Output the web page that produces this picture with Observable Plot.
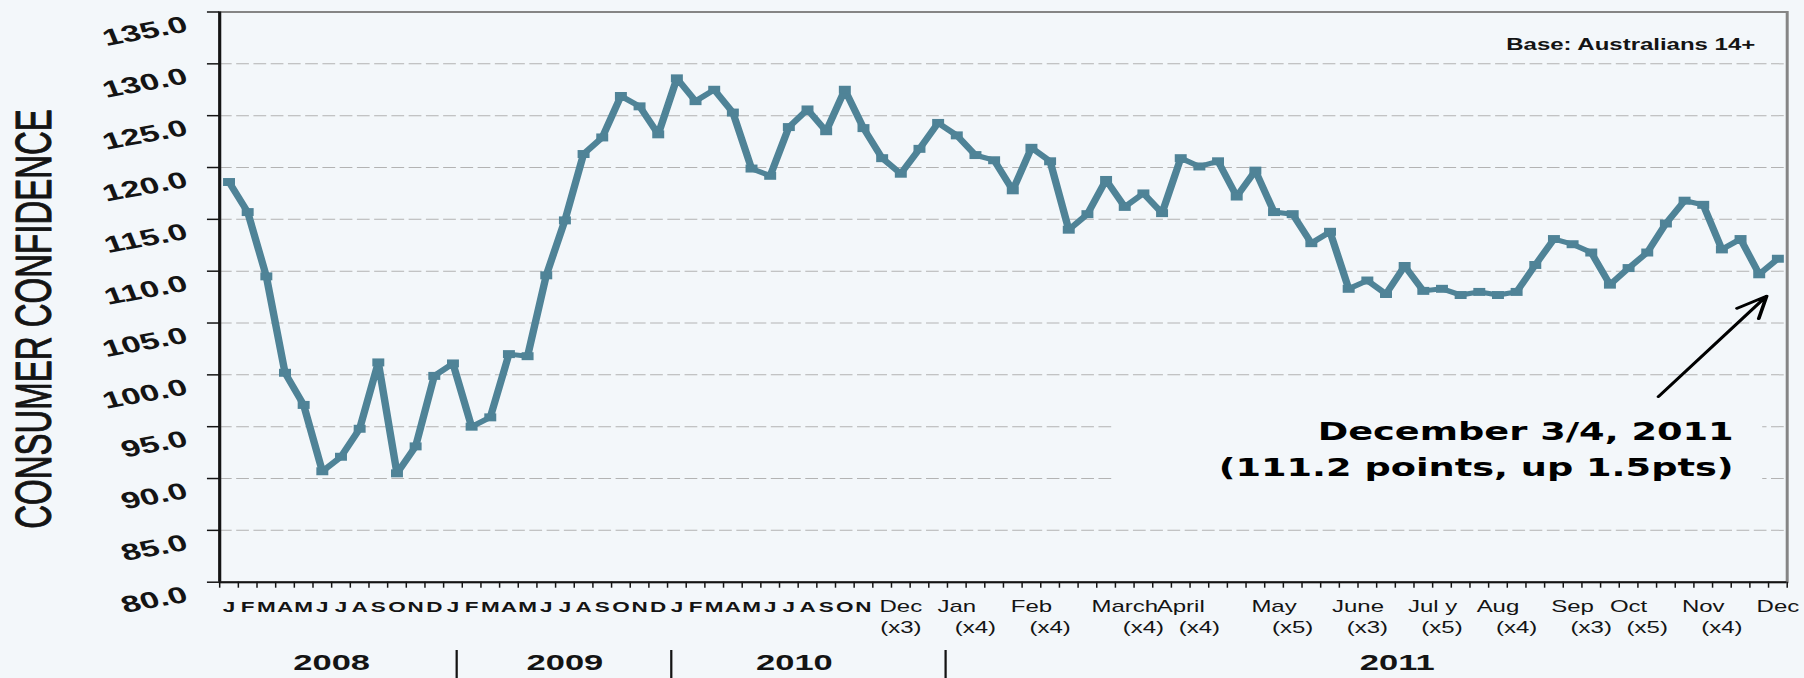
<!DOCTYPE html>
<html>
<head>
<meta charset="utf-8">
<script src="https://cdn.jsdelivr.net/npm/d3@7"></script>
<script src="https://cdn.jsdelivr.net/npm/@observablehq/plot@0.6"></script>
<style>
  html, body { margin: 0; padding: 0; background: #f3f7fa; overflow: hidden; }
  #chart { width: 1804px; height: 678px; }
</style>
</head>
<body>
<div id="chart"></div>
<script>
// Consumer confidence, Australians 14+ (index points)
const monthInitials = ["J", "F", "M", "A", "M", "J", "J", "A", "S", "O", "N", "D"];

// One reading per month, 2008 to November 2010
const monthly2008 = [118.6, 115.7, 109.5, 100.2, 97.1, 90.7, 92.1, 94.8, 101.2, 90.5, 93.1, 99.9];
const monthly2009 = [101.1, 95.0, 95.9, 102.0, 101.8, 109.6, 114.9, 121.3, 122.9, 126.9, 125.9, 123.2];
const monthly2010 = [128.6, 126.4, 127.5, 125.3, 119.9, 119.2, 123.9, 125.6, 123.5, 127.5, 123.8];

// From December 2010, several readings per month
const dec2010 = [120.9, 119.4, 121.8];
const jan2011 = [124.3, 123.1, 121.2, 120.7];
const feb2011 = [117.8, 121.9, 120.6, 114.0];
const mar2011 = [115.5, 118.8, 116.2, 117.5];
const apr2011 = [115.6, 120.9, 120.1, 120.6];
const may2011 = [117.2, 119.7, 115.7, 115.5, 112.7];
const jun2011 = [113.8, 108.3, 109.1];
const jul2011 = [107.8, 110.5, 108.1, 108.3, 107.7];
const aug2011 = [108.0, 107.7, 108.0, 110.6];
const sep2011 = [113.1, 112.6, 111.8];
const oct2011 = [108.7, 110.3, 111.8, 114.6, 116.8];
const nov2011 = [116.4, 112.1, 113.1, 109.7];
const dec2011 = [111.2];

// Second axis row: month names and where each sits along the readings
const periodNames = ["Dec", "Jan", "Feb", "March", "April", "May", "June", "Jul y", "Aug", "Sep", "Oct", "Nov", "Dec"];
const periodNameAt = [36, 39, 43, 48, 51, 56, 60.5, 64.5, 68, 72, 75, 79, 83];
const periodCountAt = [36, 40, 44, 49, 52, 57, 61, 65, 69, 73, 76, 80];

// Year row
const yearNames = ["2008", "2009", "2010", "2011"];
const yearAt = [5.5, 18, 30.3, 62.6];
const yearBreakAt = [12.2, 23.7, 38.4];

const yTicks = [80, 85, 90, 95, 100, 105, 110, 115, 120, 125, 130, 135];

// ---- derived tables ----
const weeklyPeriods = [dec2010, jan2011, feb2011, mar2011, apr2011, may2011, jun2011,
                       jul2011, aug2011, sep2011, oct2011, nov2011, dec2011];
const readings = [monthly2008, monthly2009, monthly2010, ...weeklyPeriods]
  .flat()
  .map((value, i) => ({i, value}));

const monthlyCount = monthly2008.length + monthly2009.length + monthly2010.length;
const initials = d3.range(monthlyCount).map(i => ({i, label: monthInitials[i % 12]}));
const periodNameRows = periodNames.map((label, k) => ({i: periodNameAt[k], label}));
const periodCountRows = periodCountAt.map((i, k) => ({i, label: `(x${weeklyPeriods[k].length})`}));
const yearRows = yearNames.map((label, k) => ({i: yearAt[k], label}));

const last = readings[readings.length - 1];
const prev = readings[readings.length - 2];
const calloutText = `December 3/4, 2011\n(${last.value.toFixed(1)} points, up ${(last.value - prev.value).toFixed(1)}pts)`;

// ---- layout ----
// The chart is laid out on a narrower canvas and stretched to the page width.
const W = 1203, H = 678, PAGE_W = 1804;
const bg = "#f3f7fa";
const lineColor = "#4f8397";
const ink = "#141414";

const chart = Plot.plot({
  width: W,
  height: H,
  marginLeft: 146,
  marginRight: 11.7,
  marginTop: 11.5,
  marginBottom: 96.3,
  style: {background: bg, fontFamily: "Liberation Sans, Arial, sans-serif", color: ink},
  x: {domain: [-0.5, readings.length - 0.5]},
  y: {domain: [80, 135]},
  marks: [
    // dashed horizontal grid
    Plot.ruleY(yTicks.slice(1, -1), {stroke: "#b3b3b3", strokeWidth: 1, strokeDasharray: "8.5,3"}),
    // plain panel behind the callout text
    Plot.rect([last], {
      x1: d => d.i - 35.5, x2: d => d.i - 0.8,
      y1: d => d.value - 23.3, y2: d => d.value - 14,
      fill: bg
    }),
    Plot.frame({stroke: "#858585", strokeWidth: 2}),
    Plot.ruleX([-0.5], {stroke: ink, strokeWidth: 2}),
    Plot.ruleY([80], {stroke: ink, strokeWidth: 2}),
    Plot.axisY(yTicks, {tickSize: 8, stroke: ink, strokeWidth: 1.5, fill: "none"}),
    Plot.axisX(d3.range(readings.length + 1).map(k => k - 0.5), {tickSize: 6, stroke: ink, strokeWidth: 1, fill: "none"}),

    // series
    Plot.line(readings, {x: "i", y: "value", stroke: lineColor, strokeWidth: 5, strokeLinejoin: "round"}),
    Plot.dot(readings, {x: "i", y: "value", symbol: "square", r: 4.5, fill: lineColor, stroke: "none"}),

    // y tick labels, tilted
    Plot.text(yTicks, {
      y: d => d, frameAnchor: "left", text: d => d.toFixed(1),
      textAnchor: "end", rotate: -15, dx: -22, dy: 12,
      fontSize: 23, fontWeight: "bold", fill: ink
    }),
    // y title
    Plot.text(["CONSUMER CONFIDENCE"], {
      frameAnchor: "left", rotate: -90, textAnchor: "middle",
      dx: -123, dy: 21.9, fontSize: 33, fill: ink,
      stroke: ink, strokeWidth: 0.7
    }),

    // x labels: month initials, month names, reading counts, years
    Plot.text(initials, {x: "i", text: "label", frameAnchor: "bottom", dy: 29.5, fontSize: 15, fontWeight: "bold", fill: ink}),
    Plot.text(periodNameRows, {x: "i", text: "label", frameAnchor: "bottom", dy: 29.5, fontSize: 16, fill: ink}),
    Plot.text(periodCountRows, {x: "i", text: "label", frameAnchor: "bottom", dy: 51, fontSize: 16, fill: ink}),
    Plot.text(yearRows, {x: "i", text: "label", frameAnchor: "bottom", dy: 88, fontSize: 23, fontWeight: "bold", fill: ink}),
    Plot.ruleX(yearBreakAt, {stroke: ink, strokeWidth: 1.5, insetTop: 638.5, insetBottom: -96.3}),

    // base note
    Plot.text(["Base: Australians 14+"], {
      frameAnchor: "top-right", textAnchor: "end", dx: -21.3, dy: 26.5,
      fontSize: 16, fontWeight: "bold", fill: ink
    }),

    // callout for the latest reading
    Plot.arrow([last], {
      x1: d => d.i - 6.4, y1: d => d.value - 13.3,
      x2: d => d.i - 0.6, y2: d => d.value - 3.6,
      stroke: "#000", strokeWidth: 2.5, headLength: 14, headAngle: 45
    }),
    Plot.text([last], {
      x: "i", y: "value", text: () => calloutText,
      textAnchor: "end", lineAnchor: "middle", lineHeight: 1.45,
      dx: -29.5, dy: 188,
      fontFamily: "DejaVu Sans, Verdana, sans-serif", fontWeight: "bold", fontSize: 24.5, fill: "#000"
    })
  ]
});

chart.setAttribute("width", PAGE_W);
chart.setAttribute("height", H);
chart.setAttribute("viewBox", `0 0 ${W} ${H}`);
chart.setAttribute("preserveAspectRatio", "none");
chart.style.width = PAGE_W + "px";
chart.style.height = H + "px";
chart.style.maxWidth = "none";
chart.style.display = "block";
document.getElementById("chart").append(chart);
</script>
</body>
</html>
